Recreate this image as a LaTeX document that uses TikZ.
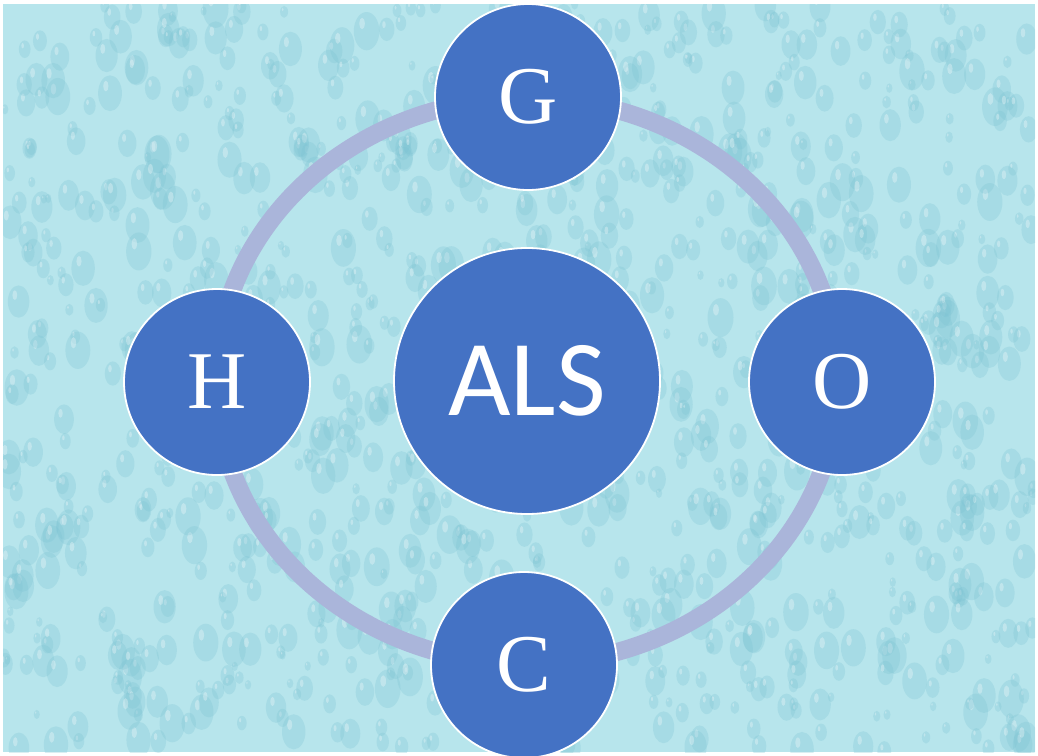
\documentclass[tikz,border=0pt]{standalone}
\usepackage{fontspec}
\setmainfont{Liberation Serif}
\newfontfamily\alsfont{Carlito}
\definecolor{bgcyan}{HTML}{B7E5EC}
\definecolor{dropc}{HTML}{7CC3D3}
\definecolor{ringc}{HTML}{AAB5DA}
\definecolor{nodec}{HTML}{4472C4}
\begin{document}
\begin{tikzpicture}[x=1pt,y=-1pt,
  bub/.style={circle, fill=nodec, draw=white, line width=1.8pt, text=white, inner sep=0pt, minimum size=186pt, font=\fontsize{82}{82}\selectfont},
  bigbub/.style={bub, minimum size=266pt, font=\alsfont\fontsize{108}{108}\selectfont},
  ringline/.style={draw=ringc, line width=18pt}]
\useasboundingbox (0,0) rectangle (1038,755);
\fill[white] (0,0) rectangle (1038,755);
\fill[bgcyan] (3,4) rectangle (1035,752);
\begin{scope}
\clip (3,4) rectangle (1035,752);
\pgfmathsetseed{11}
\foreach \i in {1,...,1100}{
  \pgfmathsetmacro\px{3+1032*rnd}
  \pgfmathsetmacro\py{4+748*rnd}
  \pgfmathsetmacro\rr{3+10*rnd}
  \fill[dropc,opacity=0.28] (\px,\py) ellipse [x radius=\rr, y radius=1.5*\rr];
  \fill[white,opacity=0.3] (\px-0.35*\rr,\py-0.6*\rr) ellipse [x radius=0.22*\rr, y radius=0.45*\rr];
}
\end{scope}
\coordinate (ctr) at (527,381);
\draw[ringline] (ctr) ellipse [x radius=311, y radius=283];
\node[bigbub] (ALS) at (ctr) {ALS};
\node[bub] (G) at (528,97) {G};
\node[bub] (H) at (217,382) {H};
\node[bub] (O) at (842,382) {O};
\node[bub] (C) at (524,665) {C};
\end{tikzpicture}
\end{document}
